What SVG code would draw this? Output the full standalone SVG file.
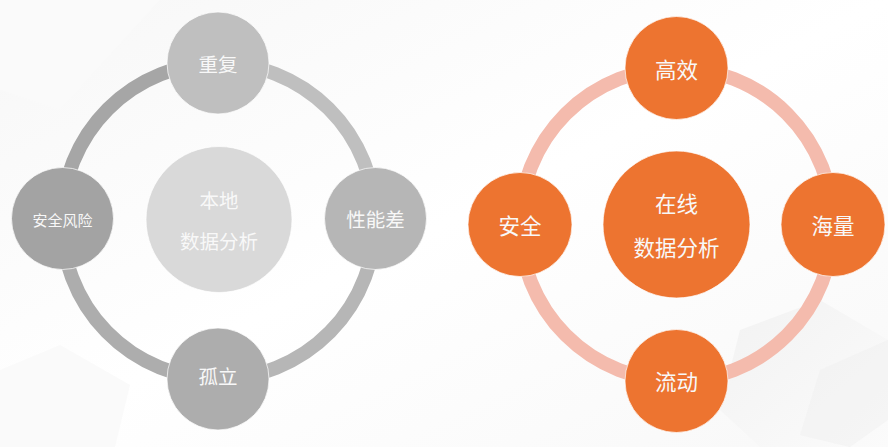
<svg xmlns="http://www.w3.org/2000/svg" width="888" height="447" viewBox="0 0 888 447">
  <defs>
    <linearGradient id="bg" x1="0" y1="0" x2="1" y2="1">
      <stop offset="0" stop-color="#f7f7f7"/>
      <stop offset="0.5" stop-color="#ffffff"/>
      <stop offset="1" stop-color="#f8f8f8"/>
    </linearGradient>
    <linearGradient id="tile" x1="0" y1="0" x2="1" y2="1">
      <stop offset="0" stop-color="#f2f2f2"/>
      <stop offset="1" stop-color="#fbfbfb"/>
    </linearGradient>
  </defs>
  <style>
    .ring { fill: none; stroke-width: 14; }
    .node circle { stroke: #ffffff; stroke-width: 1; stroke-opacity: 0.7; }
    .lbl { font-family: "Noto Sans CJK SC", "Noto Sans", sans-serif; fill: #f8f8f8; text-anchor: middle; dominant-baseline: central; }
    .orange circle { fill: #ed7430; }
    .pinkring { stroke: #f4bbad; }
  </style>
  <rect width="888" height="447" fill="url(#bg)"/>
  <g id="background">
    <polygon points="740,330 820,300 888,340 888,447 760,447 720,410" fill="url(#tile)"/>
    <polygon points="820,370 888,340 888,420 850,447 800,435" fill="#f0f0f0" opacity="0.5"/>
    <polygon points="0,370 60,345 130,385 115,447 0,447" fill="#fafafa"/>
    <polygon points="0,0 160,0 60,110 0,90" fill="#fafafa"/>
  </g>
  <g id="connectors">
    <path class="ring" stroke="#a6a6a6" d="M218,63 A157,157 0 0 0 62,219"/>
    <path class="ring" stroke="#bfbfbf" d="M218,63 A157,157 0 0 1 375,219"/>
    <path class="ring" stroke="#b6b6b6" d="M375,219 A157,157 0 0 1 218,379"/>
    <path class="ring" stroke="#adadad" d="M62,219 A157,157 0 0 0 218,379"/>
    <circle class="ring pinkring" cx="676.5" cy="224.5" r="156.5"/>
  </g>
  <g id="left-center" class="node">
    <circle cx="219" cy="219.5" r="73" fill="#d9d9d9"/>
    <text class="lbl" x="219" y="199" font-size="19.5">本地</text>
    <text class="lbl" x="219" y="240" font-size="19.5">数据分析</text>
  </g>
  <g id="chongfu" class="node">
    <circle cx="218" cy="63" r="51" fill="#bfbfbf"/>
    <text class="lbl" x="218" y="63" font-size="19.5">重复</text>
  </g>
  <g id="anquanfengxian" class="node">
    <circle cx="62.5" cy="218.5" r="51" fill="#a3a3a3"/>
    <text class="lbl" x="62.5" y="219" font-size="15">安全风险</text>
  </g>
  <g id="xingnengcha" class="node">
    <circle cx="375.5" cy="218.5" r="51" fill="#b6b6b6"/>
    <text class="lbl" x="375.5" y="218.5" font-size="19.5">性能差</text>
  </g>
  <g id="guli" class="node">
    <circle cx="218" cy="379" r="51" fill="#adadad"/>
    <text class="lbl" x="218" y="375.5" font-size="19.5">孤立</text>
  </g>
  <g id="right-center" class="node orange">
    <circle cx="676.5" cy="224.5" r="73.5"/>
    <text class="lbl" x="676.5" y="202" font-size="21.5">在线</text>
    <text class="lbl" x="676.5" y="246.5" font-size="21.5">数据分析</text>
  </g>
  <g id="gaoxiao" class="node orange">
    <circle cx="676.5" cy="68" r="51.5"/>
    <text class="lbl" x="676.5" y="68" font-size="21.5">高效</text>
  </g>
  <g id="anquan" class="node orange">
    <circle cx="520" cy="224.5" r="52"/>
    <text class="lbl" x="520" y="224" font-size="21.5">安全</text>
  </g>
  <g id="hailiang" class="node orange">
    <circle cx="833" cy="224.5" r="52"/>
    <text class="lbl" x="833" y="224" font-size="21.5">海量</text>
  </g>
  <g id="liudong" class="node orange">
    <circle cx="676.5" cy="381" r="51.5"/>
    <text class="lbl" x="676.5" y="380.5" font-size="21.5">流动</text>
  </g>
</svg>
